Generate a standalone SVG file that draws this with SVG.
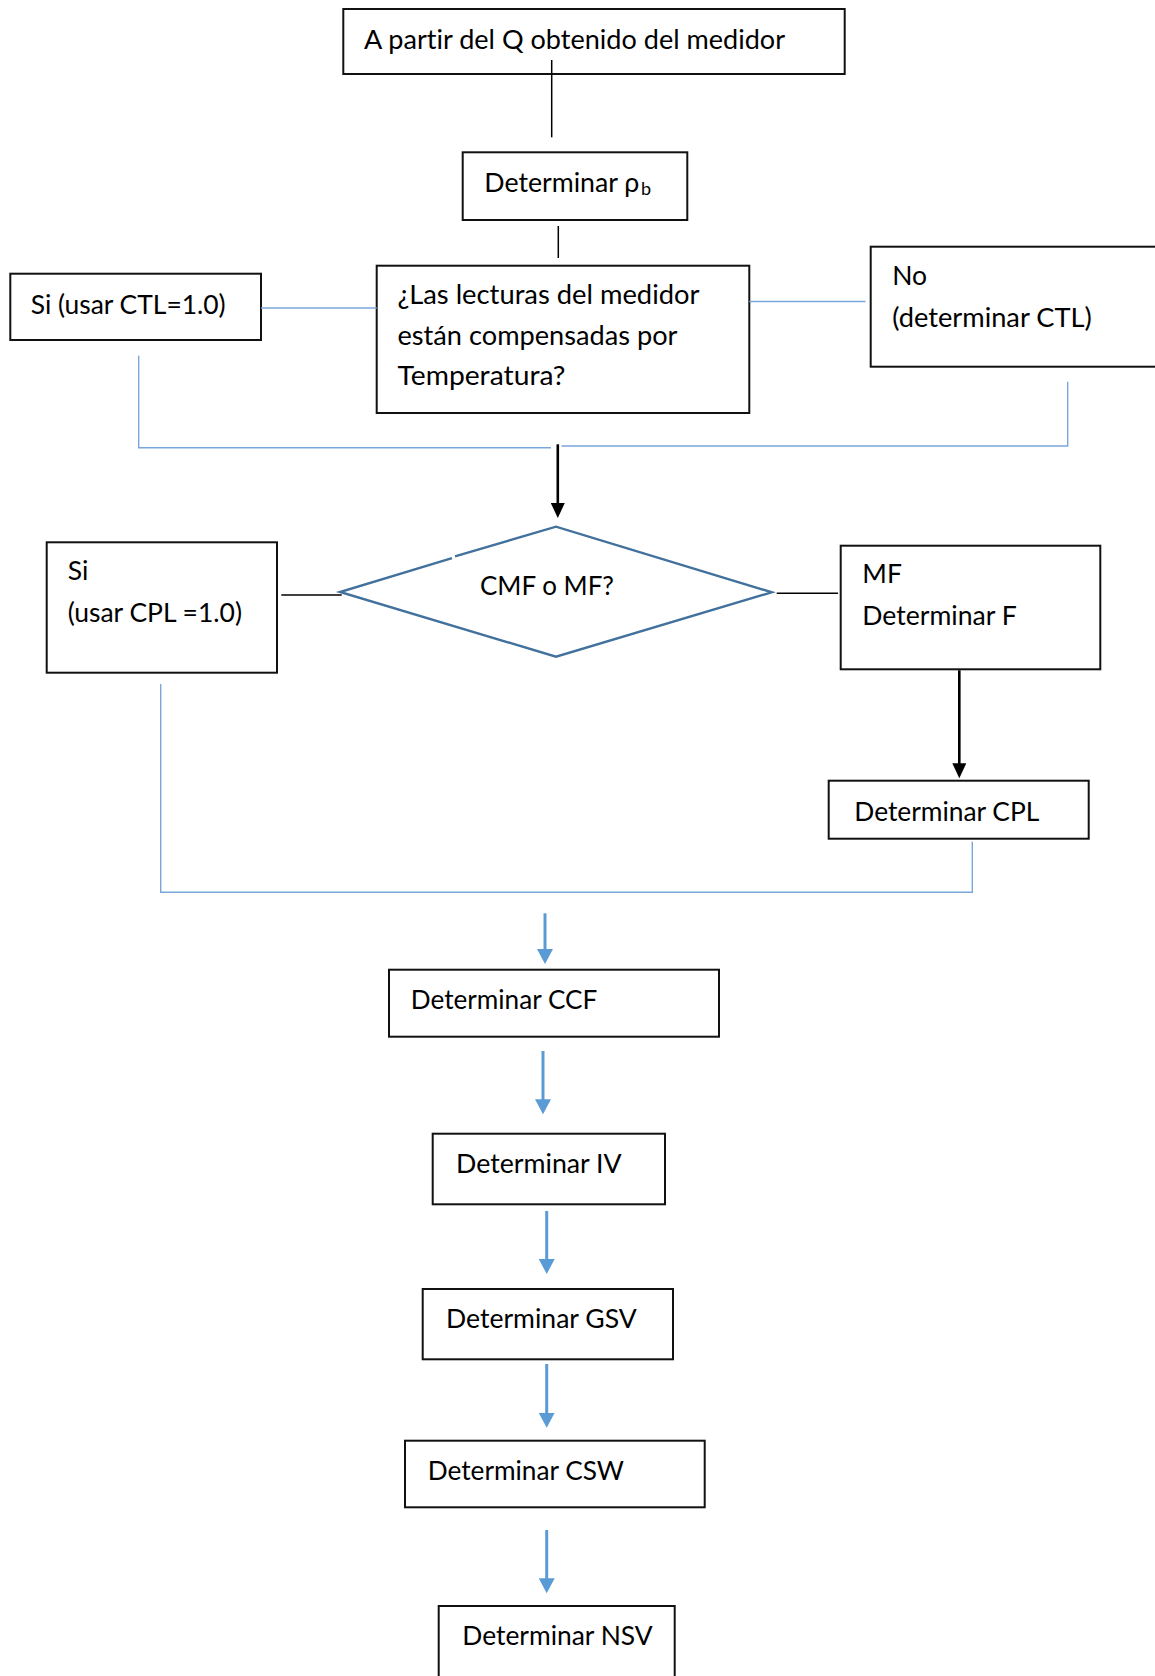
<svg xmlns="http://www.w3.org/2000/svg" width="1155" height="1676" viewBox="0 0 1155 1676">
  <defs>
    <style>
      .box { fill: #ffffff; stroke: #111111; stroke-width: 2; }
      .lbl { font-family: Lato, "Liberation Sans", sans-serif; font-size: 26.5px; fill: #000000; font-variant-ligatures: none; }
      .blk { fill: none; stroke: #000000; stroke-width: 1.5; }
      .blkArrow { fill: none; stroke: #000000; stroke-width: 2.6; }
      .thinBlue { fill: none; stroke: #7AA7DA; stroke-width: 1.4; }
      .blueArrow { fill: none; stroke: #5B9BD5; stroke-width: 3; }
      .decision { fill: #ffffff; stroke: #41719C; stroke-width: 2.4; stroke-linejoin: miter; }
    </style>
    <marker id="headBlack" markerUnits="userSpaceOnUse" markerWidth="16" markerHeight="14" refX="1" refY="7" orient="auto">
      <path d="M0,0 L15,7 L0,14 Z" fill="#000000"/>
    </marker>
    <marker id="headBlue" markerUnits="userSpaceOnUse" markerWidth="16" markerHeight="16" refX="1" refY="8" orient="auto">
      <path d="M0,0 L15,8 L0,16 Z" fill="#5B9BD5"/>
    </marker>
  </defs>

  <rect width="1155" height="1676" fill="#ffffff"/>

  <!-- start -->
  <g id="node-start">
    <rect class="box" x="343.3" y="9" width="501.4" height="65"/>
    <text class="lbl" x="364" y="49" textLength="421" lengthAdjust="spacingAndGlyphs">A partir del Q obtenido del medidor</text>
  </g>

  <g id="node-density">
    <rect class="box" x="462.7" y="152.3" width="224.6" height="67.7"/>
    <text class="lbl" x="484.3" y="191.5"><tspan textLength="155" lengthAdjust="spacingAndGlyphs">Determinar ρ</tspan><tspan x="641" dy="3" font-size="18">b</tspan></text>
  </g>

  <g id="node-temp-question">
    <rect class="box" x="376.7" y="265.7" width="372.6" height="147.3"/>
    <text class="lbl" x="397.5" y="304" textLength="302" lengthAdjust="spacingAndGlyphs">¿Las lecturas del medidor</text>
    <text class="lbl" x="397.5" y="345" textLength="280" lengthAdjust="spacingAndGlyphs">están compensadas por</text>
    <text class="lbl" x="397.5" y="385" textLength="168" lengthAdjust="spacingAndGlyphs">Temperatura?</text>
  </g>

  <g id="node-ctl-yes">
    <rect class="box" x="10.3" y="273.7" width="250.7" height="66.3"/>
    <text class="lbl" x="30.7" y="314" textLength="195" lengthAdjust="spacingAndGlyphs">Si (usar CTL=1.0)</text>
  </g>

  <g id="node-ctl-no">
    <rect class="box" x="870.7" y="246.7" width="300" height="120"/>
    <text class="lbl" x="892.3" y="285">No</text>
    <text class="lbl" x="892.3" y="326.7" textLength="199.4" lengthAdjust="spacingAndGlyphs">(determinar CTL)</text>
  </g>

  <g id="node-meter-question">
    <path class="decision" d="M455,556.3 L556,526.7 L771.7,592.3 L556,656.7 L340,592 L452,558.2"/>
    <text class="lbl" x="480" y="595" textLength="134" lengthAdjust="spacingAndGlyphs">CMF o MF?</text>
  </g>

  <g id="node-cpl-yes">
    <rect class="box" x="46.7" y="542.3" width="230.3" height="130.4"/>
    <text class="lbl" x="67.7" y="580">Si</text>
    <text class="lbl" x="67.7" y="621.7" textLength="174.3" lengthAdjust="spacingAndGlyphs">(usar CPL =1.0)</text>
  </g>

  <g id="node-mf">
    <rect class="box" x="840.7" y="545.7" width="259.6" height="123.6"/>
    <text class="lbl" x="862.3" y="583.3">MF</text>
    <text class="lbl" x="862.3" y="625" textLength="154.4" lengthAdjust="spacingAndGlyphs">Determinar F</text>
  </g>

  <g id="node-cpl">
    <rect class="box" x="828.7" y="780.7" width="260" height="58"/>
    <text class="lbl" x="854.3" y="821" textLength="185" lengthAdjust="spacingAndGlyphs">Determinar CPL</text>
  </g>

  <g id="node-ccf">
    <rect class="box" x="389" y="969.7" width="330" height="67"/>
    <text class="lbl" x="410.7" y="1009" textLength="186.6" lengthAdjust="spacingAndGlyphs">Determinar CCF</text>
  </g>

  <g id="node-iv">
    <rect class="box" x="432.7" y="1133.7" width="232.3" height="70.6"/>
    <text class="lbl" x="456" y="1172.7" textLength="165.7" lengthAdjust="spacingAndGlyphs">Determinar IV</text>
  </g>

  <g id="node-gsv">
    <rect class="box" x="422.7" y="1289" width="250.3" height="70.3"/>
    <text class="lbl" x="446" y="1327.7" textLength="190.7" lengthAdjust="spacingAndGlyphs">Determinar GSV</text>
  </g>

  <g id="node-csw">
    <rect class="box" x="405" y="1440.7" width="299.7" height="66.6"/>
    <text class="lbl" x="427.7" y="1480" textLength="196.3" lengthAdjust="spacingAndGlyphs">Determinar CSW</text>
  </g>

  <g id="node-nsv">
    <rect class="box" x="438.7" y="1606" width="236" height="100"/>
    <text class="lbl" x="462.3" y="1645" textLength="190.4" lengthAdjust="spacingAndGlyphs">Determinar NSV</text>
  </g>

  <!-- connectors, drawn last so the first one shows inside the start box -->
  <g id="connectors">
    <path class="blk" d="M551.7,60 V137.3"/>
    <path class="blk" d="M558.3,226 V258"/>
    <path class="thinBlue" d="M261,308 H376.7"/>
    <path class="thinBlue" d="M749.3,301.5 H865.5"/>
    <path class="thinBlue" d="M138.7,355.7 V447.7 H551"/>
    <path class="thinBlue" d="M561.5,446 H1067.7 V381.7"/>
    <path class="blkArrow" d="M557.8,444.3 V504" marker-end="url(#headBlack)"/>
    <path class="blk" d="M281.3,595 H341.7"/>
    <path class="blk" d="M776.7,593.3 H838"/>
    <path class="blkArrow" d="M959.3,670.3 V764.3" marker-end="url(#headBlack)"/>
    <path class="thinBlue" d="M160.7,684 V892.3 H972.3 V841.7"/>
    <path class="blueArrow" d="M545,913.3 V950" marker-end="url(#headBlue)"/>
    <path class="blueArrow" d="M543,1051 V1100.3" marker-end="url(#headBlue)"/>
    <path class="blueArrow" d="M546.7,1211 V1260" marker-end="url(#headBlue)"/>
    <path class="blueArrow" d="M546.7,1364 V1413.7" marker-end="url(#headBlue)"/>
    <path class="blueArrow" d="M546.7,1530 V1579.3" marker-end="url(#headBlue)"/>
  </g>
</svg>
